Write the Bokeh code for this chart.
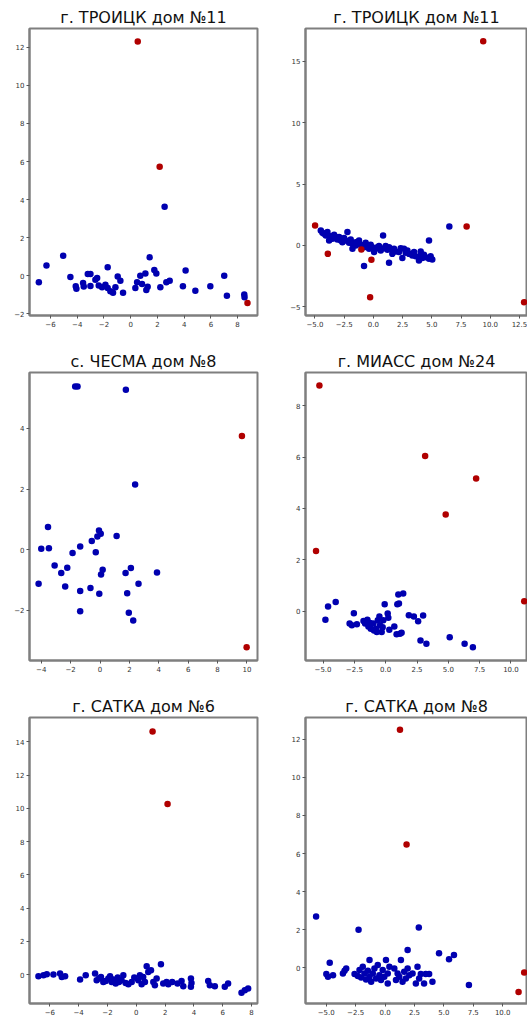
from bokeh.plotting import figure
from bokeh.layouts import column, row
from bokeh.models import FixedTicker
from bokeh.embed import file_html
from bokeh.resources import INLINE

# ---------------- data ----------------
titles = ["г. ТРОИЦК дом №11", "г. ТРОИЦК дом №11", "с. ЧЕСМА дом №8",
          "г. МИАСС дом №24", "г. САТКА дом №6", "г. САТКА дом №8"]

# panel 1
p1_blue_x = [-6.87, -6.30, -5.05, -4.51, -4.11, -4.06, -3.56, -3.51, -3.21, -3.01, -3.01, -2.64, -2.51,
             -2.39, -2.14, -1.89, -1.72, -1.72, -1.52, -1.32, -1.14, -0.97, -0.77, -0.57, 0.35, 0.48,
             0.72, 0.85, 1.10, 1.17, 1.27, 1.42, 1.77, 1.92, 2.22, 2.54, 2.67, 2.92, 3.91, 4.11, 4.84,
             5.96, 7.00, 7.20, 8.50, 8.52]
p1_blue_y = [-0.34, 0.54, 1.06, -0.06, -0.55, -0.67, -0.37, -0.56, 0.10, 0.10, -0.53, -0.21, -0.11,
             -0.51, -0.60, -0.46, 0.45, -0.64, -0.81, -0.88, -0.60, -0.04, -0.25, -0.88, -0.64, -0.34,
             0.01, -0.43, 0.13, -0.74, -0.57, 0.98, 0.31, 0.13, -0.60, 3.63, -0.34, -0.25, -0.55, 0.28, -0.78,
             -0.55, 0.01, -1.05, -0.98, -1.12]
p1_red_x = [0.53, 2.17, 8.74]
p1_red_y = [12.30, 5.73, -1.42]

# panel 2
p2_blue_x = [-4.50, -4.36, -4.22, -4.07, -3.65, -3.79, -3.50, -3.22, -3.08, -2.93, -2.79, -2.65, -2.36,
             -2.22, -2.08, -1.79, -1.79, -1.51, -1.51, -1.23, -1.08, -0.80, -0.80, -0.51, -0.37, -0.09,
             0.06, 0.20, 0.48, 0.63, 0.83, 0.91, 1.20, 1.34, 1.48, 1.62, 1.77, 1.91, 2.19, 2.48, 2.62,
             2.76, 3.05, 3.33, 3.62, 3.90, 4.05, 4.19, 4.47, 4.76, 4.76, 4.90, 5.04, 6.50,
             -3.93, -3.36, -2.51, -1.94, -1.37, -0.66, -0.23, 0.34, 1.05, 1.34, 2.34, 2.91, 3.48, 4.33, 4.05]
p2_blue_y = [1.22, 1.03, 0.95, 0.82, 0.76, 0.41, 0.54, 0.68, 0.49, 0.68, 0.41, 0.27, 0.41,
             1.09, 0.22, 0.14, -0.27, 0.27, 0.00, 0.41, 0.05, -0.14, -1.68, 0.00, -0.27, -0.14,
             -0.54, -0.27, -0.05, -0.41, 0.82, -0.22, -0.35, -1.41, -0.27, -0.68, -0.27, -0.49, -0.54, -1.03, -0.27,
             -0.60, -0.68, -0.82, -0.87, -1.22, -0.82, -1.03, -0.95, 0.41, -1.09, -0.87, -1.14, 1.55,
             1.09, 0.87, 0.60, 0.49, 0.22, 0.22, 0.05, -0.14, -0.05, -0.14, -0.22, -0.41, -0.54, -0.76, -0.49]
p2_red_x = [9.40, -4.99, -3.90, -1.03, -0.17, -0.28, 7.98, 12.90]
p2_red_y = [16.63, 1.63, -0.68, -0.33, -1.17, -4.21, 1.55, -4.62]

# panel 3
p3_blue_x = [-1.69, -1.53, 1.76, 2.39, -4.18, -4.00, -3.54, -3.48, -3.09, -2.64, -2.37, -2.23, -1.87,
             -1.35, -1.35, -1.35, -0.65, -0.56, -0.29, -0.18, -0.07, 0.05, -0.05, 0.07, 0.18, 1.13,
             1.74, 1.85, 1.96, 2.10, 2.26, 2.62, 3.88]
p3_blue_y = [5.38, 5.38, 5.27, 2.15, -1.12, 0.03, 0.75, 0.05, -0.52, -0.77, -1.21, -0.59, -0.11,
             0.11, -1.36, -2.03, -1.26, 0.29, -0.08, 0.44, 0.63, 0.53, -1.45, -0.82, -0.66, 0.45,
             -0.77, -1.43, -2.08, -0.60, -2.33, -1.12, -0.75]
p3_red_x = [9.66, 9.98]
p3_red_y = [3.75, -3.21]

# panel 4
p4_blue_x = [-4.81, -4.60, -3.99, -2.54, -2.88, -2.70, -2.30, -1.46, -1.38, -1.24, -1.19, -0.77, -0.63,
             -0.50, -0.45, -0.32, -0.24, -0.08, 0.16, 0.21, 0.29, 0.69, 0.87, 1.14, 1.27, 0.93, 1.06,
             1.01, 1.40, 1.85, 2.25, 2.59, 2.99, 2.78, 3.25, 5.11, 6.30, 6.96,
             -1.77, -1.64, -0.98, -0.93, -0.71, -0.19]
p4_blue_y = [-0.34, 0.18, 0.35, -0.09, -0.49, -0.56, -0.52, -0.34, -0.60, -0.47, -0.69, -0.69, -0.36,
             -0.21, -0.56, -0.82, -0.63, 0.26, -0.10, -0.26, -0.73, -0.60, -0.91, -0.89, -0.85, 0.26, 0.29,
             0.64, 0.68, -0.17, -0.21, -0.40, -0.18, -1.15, -1.28, -1.02, -1.28, -1.41,
             -0.39, -0.49, -0.49, -0.76, -0.82, -0.36]
p4_red_x = [-5.29, -5.56, 3.15, 4.79, 7.22, 11.06]
p4_red_y = [8.79, 2.34, 6.04, 3.76, 5.17, 0.38]

# panel 5
p5_blue_x = [-6.79, -6.44, -6.21, -5.75, -5.29, -5.17, -4.94, -3.90, -3.51, -2.86, -2.75, -2.59, -2.45,
             -2.29, -2.12, -1.94, -1.82, -1.71, -1.59, -1.43, -1.29, -1.20, -1.02, -0.90, -0.74, -0.55,
             -0.32, -0.14, 0.14, 0.25, 0.37, 0.48, 0.60, 0.72, 0.83, 1.02, 1.18, 1.29, 1.41, 1.71, 1.87,
             2.10, 2.22, 2.49, 2.86, 3.14, 3.26, 3.79, 3.83, 3.79, 4.99, 5.10, 5.45, 6.14, 6.37, 7.30,
             7.53, 7.76]
p5_blue_y = [-0.10, -0.04, 0.02, 0.00, 0.06, -0.14, -0.10, -0.30, -0.04, 0.06, -0.34, -0.24, -0.14,
             -0.44, -0.38, -0.24, -0.10, -0.44, -0.30, -0.54, -0.18, -0.44, -0.34, -0.04, -0.50, -0.58,
             -0.44, -0.18, -0.34, -0.04, -0.58, -0.14, -0.44, 0.50, 0.16, 0.26, -0.44, -0.64, -0.24, 0.62, -0.54,
             -0.44, -0.58, -0.44, -0.54, -0.38, -0.70, -0.24, -0.50, -0.74, -0.38, -0.64, -0.70, -0.74, -0.54, -1.10,
             -0.94, -0.84]
p5_red_x = [1.13, 2.17]
p5_red_y = [14.62, 10.26]

# panel 6
p6_blue_x = [-4.70, -4.99, -4.85, -4.42, -3.58, -3.44, -3.30, -2.59, -2.31, -2.17, -2.03, -1.89, -1.75,
             -1.61, -1.46, -1.32, -1.32, -1.18, -1.04, -0.90, -0.76, -0.62, -0.48, -0.34, -0.20, -0.06,
             0.08, 0.23, 0.23, 0.37, 0.79, 0.93, 1.07, 1.21, 1.35, 1.49, 1.63, 1.77, 1.92, 2.06, 2.34,
             2.62, 2.76, 2.90, 3.04, 3.32, 3.46, 3.75, 4.03, 1.92, 4.59, 5.44, 5.86, 7.13, -5.86, -2.25, 2.87]
p6_blue_y = [0.26, -0.33, -0.47, -0.39, -0.30, -0.16, -0.04, -0.33, -0.44, -0.12, -0.51, 0.05, -0.30,
             -0.62, -0.16, 0.40, -0.47, -0.74, -0.30, -0.04, -0.56, 0.14, -0.39, -0.65, -0.12, -0.47,
             0.40, -0.83, -0.30, 0.05, -0.04, -0.65, -0.30, -0.47, 0.40, -0.74, -0.21, -0.56, -0.04, -0.39, -0.30,
             -0.83, 0.05, -0.56, -0.33, -0.83, -0.33, -0.33, -0.74, 0.93, 0.76, 0.44, 0.67, -0.91, 2.69, 1.99, 2.11]
p6_red_x = [1.27, 1.83, 11.83, 11.35]
p6_red_y = [12.50, 6.47, -0.25, -1.27]

# axis ticks and labels
p1_xticks = [-6, -4, -2, 0, 2, 4, 6, 8]
p1_xlabels = ["−6", "−4", "−2", "0", "2", "4", "6", "8"]
p1_yticks = [-2, 0, 2, 4, 6, 8, 10, 12]
p1_ylabels = ["−2", "0", "2", "4", "6", "8", "10", "12"]

p2_xticks = [-5.0, -2.5, 0.0, 2.5, 5.0, 7.5, 10.0, 12.5]
p2_xlabels = ["−5.0", "−2.5", "0.0", "2.5", "5.0", "7.5", "10.0", "12.5"]
p2_yticks = [-5, 0, 5, 10, 15]
p2_ylabels = ["−5", "0", "5", "10", "15"]

p3_xticks = [-4, -2, 0, 2, 4, 6, 8, 10]
p3_xlabels = ["−4", "−2", "0", "2", "4", "6", "8", "10"]
p3_yticks = [-2, 0, 2, 4]
p3_ylabels = ["−2", "0", "2", "4"]

p4_xticks = [-5.0, -2.5, 0.0, 2.5, 5.0, 7.5, 10.0]
p4_xlabels = ["−5.0", "−2.5", "0.0", "2.5", "5.0", "7.5", "10.0"]
p4_yticks = [0, 2, 4, 6, 8]
p4_ylabels = ["0", "2", "4", "6", "8"]

p5_xticks = [-6, -4, -2, 0, 2, 4, 6, 8]
p5_xlabels = ["−6", "−4", "−2", "0", "2", "4", "6", "8"]
p5_yticks = [0, 2, 4, 6, 8, 10, 12, 14]
p5_ylabels = ["0", "2", "4", "6", "8", "10", "12", "14"]

p6_xticks = [-5.0, -2.5, 0.0, 2.5, 5.0, 7.5, 10.0]
p6_xlabels = ["−5.0", "−2.5", "0.0", "2.5", "5.0", "7.5", "10.0"]
p6_yticks = [0, 2, 4, 6, 8, 10, 12]
p6_ylabels = ["0", "2", "4", "6", "8", "10", "12"]

x_ranges = [(-7.57, 9.49), (-5.81, 13.19), (-4.8, 10.72), (-6.4, 11.32), (-7.41, 8.41), (-6.76, 12.11)]
y_ranges = [(-2.08, 12.98), (-5.7, 17.66), (-3.65, 5.84), (-1.93, 9.3), (-1.74, 15.46), (-1.88, 13.15)]

BLUE = "#0000b0"
RED = "#b00000"
BORDER = "#7f7f7f"


def make_panel(idx, bx, by, rx, ry, xt, xl, yt, yl, width, height, left, right, top, bottom):
    p = figure(width=width, height=height, x_range=x_ranges[idx], y_range=y_ranges[idx],
               output_backend="svg", toolbar_location=None, title=titles[idx],
               min_border_left=left, min_border_right=right, min_border_top=top,
               min_border_bottom=bottom, background_fill_color="white",
               border_fill_color="white")
    p.title.align = "center"
    p.title.text_font = "DejaVu Sans"
    p.title.text_font_size = "16px"
    p.title.text_font_style = "normal"
    p.title.text_color = "#111111"
    p.title.standoff = 3
    p.grid.visible = False
    p.outline_line_color = BORDER
    p.outline_line_width = 2
    p.xaxis.ticker = FixedTicker(ticks=xt)
    p.yaxis.ticker = FixedTicker(ticks=yt)
    p.xaxis.major_label_overrides = {t: l for t, l in zip(xt, xl)}
    p.yaxis.major_label_overrides = {t: l for t, l in zip(yt, yl)}
    for ax in (p.xaxis, p.yaxis):
        ax.axis_line_color = BORDER
        ax.axis_line_width = 2
        ax.major_tick_out = 3
        ax.major_tick_in = 0
        ax.major_tick_line_color = "#555555"
        ax.minor_tick_line_color = None
        ax.major_label_text_font = "DejaVu Sans"
        ax.major_label_text_font_size = "7px"
        ax.major_label_text_color = "#333333"
        ax.major_label_standoff = 2
    p.scatter(bx, by, size=6.5, fill_color=BLUE, line_color=None)
    p.scatter(rx, ry, size=6.5, fill_color=RED, line_color=None)
    return p


LW, RW = 262, 265
H1, H2, H3 = 344, 345, 329

f1 = make_panel(0, p1_blue_x, p1_blue_y, p1_red_x, p1_red_y, p1_xticks, p1_xlabels, p1_yticks, p1_ylabels,
                LW, H1, 29, 5, 28, 29)
f2 = make_panel(1, p2_blue_x, p2_blue_y, p2_red_x, p2_red_y, p2_xticks, p2_xlabels, p2_yticks, p2_ylabels,
                RW, H1, 43, 0, 28, 29)
f3 = make_panel(2, p3_blue_x, p3_blue_y, p3_red_x, p3_red_y, p3_xticks, p3_xlabels, p3_yticks, p3_ylabels,
                LW, H2, 29, 5, 28, 29)
f4 = make_panel(3, p4_blue_x, p4_blue_y, p4_red_x, p4_red_y, p4_xticks, p4_xlabels, p4_yticks, p4_ylabels,
                RW, H2, 43, 0, 28, 29)
f5 = make_panel(4, p5_blue_x, p5_blue_y, p5_red_x, p5_red_y, p5_xticks, p5_xlabels, p5_yticks, p5_ylabels,
                LW, H3, 29, 5, 28, 15)
f6 = make_panel(5, p6_blue_x, p6_blue_y, p6_red_x, p6_red_y, p6_xticks, p6_xlabels, p6_yticks, p6_ylabels,
                RW, H3, 43, 0, 28, 15)

layout = column(row(f1, f2), row(f3, f4), row(f5, f6))

open("out.html", "w").write(file_html(layout, INLINE))
